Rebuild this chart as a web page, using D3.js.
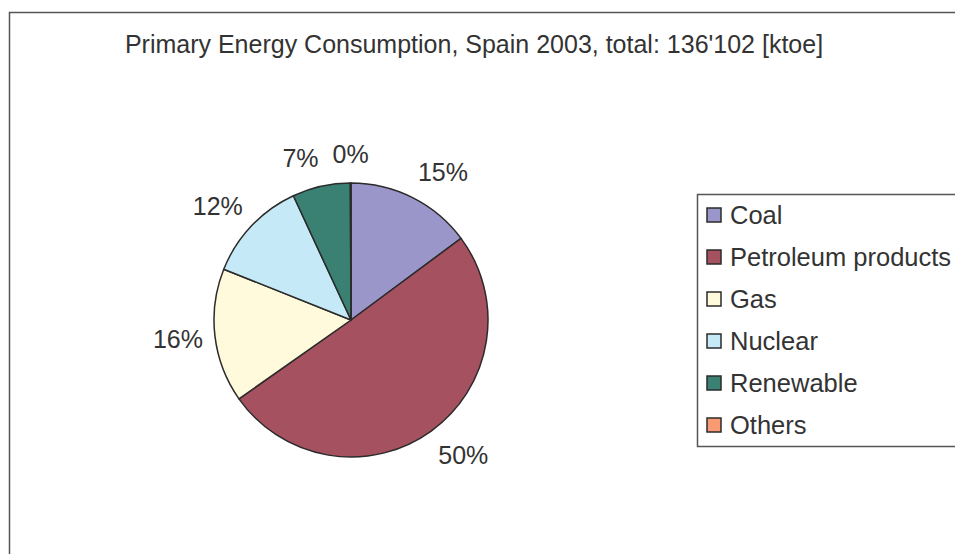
<!DOCTYPE html>
<html>
<head>
<meta charset="utf-8">
<script src="https://cdn.jsdelivr.net/npm/d3@7"></script>
<style>
  body { margin: 0; background: #fff; }
  text { font-family: "Liberation Sans", Arial, sans-serif; fill: #333; }
</style>
</head>
<body>
<svg id="chart" width="955" height="554"></svg>
<script>
// data (ktoe, total 136'102)
var categories = ["Coal", "Petroleum products", "Gas", "Nuclear", "Renewable", "Others"];
var values = [20200, 68600, 21500, 16400, 9300, 102];
var colors = ["#9b96c9", "#a5515f", "#fffadb", "#c6e9f8", "#3a8173", "#f99a73"];
var title = "Primary Energy Consumption, Spain 2003, total: 136'102 [ktoe]";

var svg = d3.select("#chart");
var cx = 351, cy = 320, r = 137;

// chart frame
svg.append("rect")
  .attr("x", 9.5).attr("y", 12.5)
  .attr("width", 1000).attr("height", 600)
  .attr("fill", "none").attr("stroke", "#555").attr("stroke-width", 1.5);

svg.append("text")
  .attr("x", 474).attr("y", 53)
  .attr("text-anchor", "middle")
  .style("font-size", "25px")
  .text(title);

var total = d3.sum(values);
var data = categories.map(function(c, i) { return {name: c, value: values[i], color: colors[i]}; });

var pie = d3.pie().sort(null).value(function(d) { return d.value; });
var arc = d3.arc().innerRadius(0).outerRadius(r);
var arcs = pie(data);

var g = svg.append("g").attr("transform", "translate(" + cx + "," + cy + ")");

g.selectAll("path")
  .data(arcs)
  .enter().append("path")
  .attr("d", arc)
  .attr("fill", function(d) { return d.data.color; })
  .attr("stroke", "#2b2b2b")
  .attr("stroke-width", 1.5)
  .attr("stroke-linejoin", "round");

// percentage labels, placed outside the pie
var rx = r + 12, ry = r + 20;
g.selectAll("text.pct")
  .data(arcs)
  .enter().append("text")
  .attr("class", "pct")
  .style("font-size", "25px")
  .text(function(d) { return Math.round(d.data.value / total * 100) + "%"; })
  .each(function(d) {
    var a = (d.startAngle + d.endAngle) / 2;
    var s = Math.sin(a), c = Math.cos(a);
    var px = rx * s, py = -ry * c;
    var w = this.getComputedTextLength(), h = 18;
    var left;
    if (Math.abs(s) < 0.05) left = px - w / 2;
    else if (s > 0) left = px;
    else left = px - w;
    var top = py - h * (1 + c) / 2;
    d3.select(this).attr("x", left).attr("y", top + h);
  });

// legend
var lg = svg.append("g").attr("transform", "translate(697,194)");
lg.append("rect")
  .attr("x", 0.5).attr("y", 0.5)
  .attr("width", 400).attr("height", 252)
  .attr("fill", "#fff").attr("stroke", "#555").attr("stroke-width", 1.5);

var row = lg.selectAll("g.item")
  .data(data)
  .enter().append("g")
  .attr("class", "item")
  .attr("transform", function(d, i) { return "translate(0," + (21 + i * 42) + ")"; });

row.append("rect")
  .attr("x", 10).attr("y", -7)
  .attr("width", 14).attr("height", 14)
  .attr("fill", function(d) { return d.color; })
  .attr("stroke", "#2b2b2b").attr("stroke-width", 1.5);

row.append("text")
  .attr("x", 33).attr("y", 9)
  .style("font-size", "25.5px")
  .text(function(d) { return d.name; });
</script>
</body>
</html>
